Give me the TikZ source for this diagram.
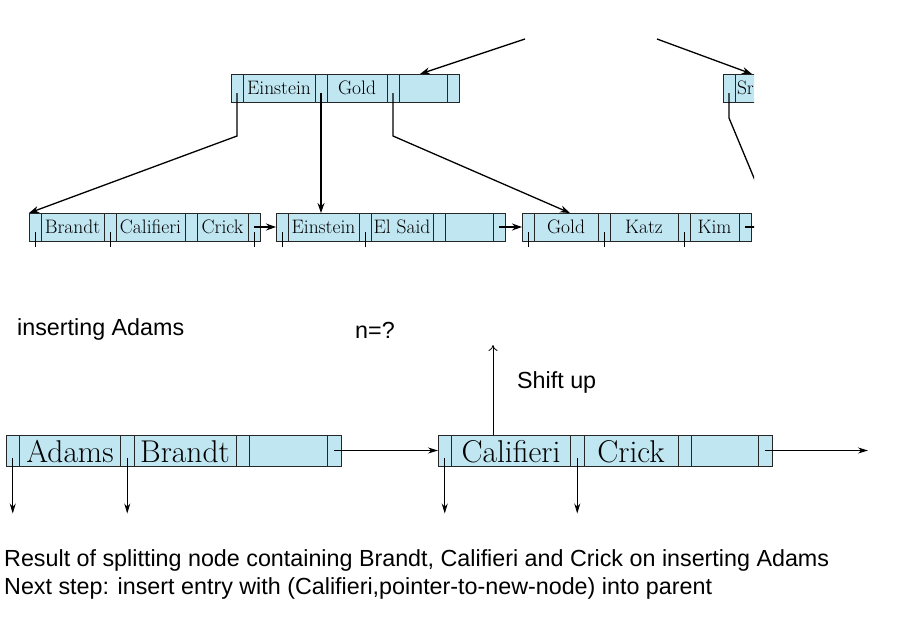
\documentclass[tikz,border=0pt]{standalone}
\usepackage{fontspec}
\newfontfamily\notefont{Liberation Sans}
\usetikzlibrary{positioning,calc,arrows.meta}

\definecolor{cellblue}{RGB}{192,230,242}
\colorlet{cell edge}{black!85}

% one B+-tree node: pointer cells and key cells in a row
\newcommand{\bnode}[3]{%
  \node[ptr, anchor=west] (#1-p0) at #2 {};
  \foreach \w/\t [count=\i, remember=\i as \j (initially 0)] in {#3} {
    \node[key=\w, right=0pt of #1-p\j] (#1-k\i) {\t};
    \node[ptr, right=0pt of #1-k\i] (#1-p\i) {};
  }
}

\tikzset{
  cell/.style={draw=cell edge, fill=cellblue, line width=1pt, inner sep=0pt, outer sep=0pt,
    minimum height=28pt, text height=16.5pt, text depth=3.5pt, font=\fontsize{19.5}{21}\selectfont},
  ptr/.style={cell, minimum width=12pt},
  key/.style={cell, minimum width=#1},
  tick/.style={line width=1pt},
  ptrline/.style={line width=1.3pt},
  link/.style={ptrline, -{Stealth[length=10pt,width=7pt]}},
  downptr/.style={line width=0.9pt, -{Stealth[length=10pt,width=6pt]}},
  shiftarrow/.style={line width=0.8pt, -{To[length=6pt,width=9pt]}},
  note/.style={font=\notefont\fontsize{23.3}{27}\selectfont, anchor=base west, inner sep=0pt},
}

\begin{document}
\begin{tikzpicture}[x=1pt, y=-1pt]
  \useasboundingbox (0,0) rectangle (904,624);

  % Tree before the insert
  \begin{scope}
    \clip (0,38) rectangle (754,262);
    \bnode{root}{(231,88)}{72pt/Einstein,60pt/Gold,48pt/{}}
    \node[ptr, anchor=west] (sr-p0) at (723,88) {};
    \node[key=60pt, right=0pt of sr-p0, text width=56pt, align=left] (sr-k1) {Sr};

    \bnode{leaf1}{(29,227)}{63pt/Brandt,69pt/Califieri,51pt/Crick}
    \bnode{leaf2}{(276,227)}{71pt/Einstein,62pt/El Said,48pt/{}}
    \bnode{leaf3}{(522,227)}{64pt/Gold,68pt/Katz,49pt/Kim}

    \coordinate (up1) at (525,39);
    \coordinate (up2) at (657,39);
    \draw[link] (up1) -- ($(root-k3.north)+(-3,0)$);
    \draw[link] (up2) -- ($(sr-k1.north west)+(17,0)$);

    \draw[link] ($(root-p0.center)+(0,5)$) -- ++(0,43) -- (leaf1-p0.north west);
    \draw[link] ($(root-p1.center)+(0,5)$) -- (root-p1.center |- leaf2-k1.north);
    \draw[link] ($(root-p2.center)+(0,5)$) -- ++(0,43) -- ($(leaf3-k1.north)+(4,0)$);
    \draw[ptrline] ($(sr-p0.center)+(0,5)$) -- ++(0,25) -- ++(30,72);

    \foreach \p in {leaf1-p0,leaf1-p1,leaf1-p3,leaf2-p0,leaf2-p1,leaf3-p0,leaf3-p1,leaf3-p2}
      \draw[tick] ($(\p.center)+(0,5)$) -- ($(\p.south)+(0,6)$);

    \draw[link] (leaf1-p3.center) -- (leaf2-p0.west);
    \draw[link] (leaf2-p3.center) -- (leaf3-p0.west);
    \draw[ptrline] (leaf3-p3.center) -- ++(20,0);
  \end{scope}

  \node[note] (ins) at (17,335) {inserting Adams};
  \node[note] (nq) at (355,338) {n=?};

  % The two halves after the split
  \begin{scope}[cell/.append style={minimum height=31pt, text height=27pt, text depth=3pt,
      font=\fontsize{31.5}{34}\selectfont}, ptr/.append style={minimum width=13.5pt}]
    \bnode{half1}{(6,450.5)}{101pt/Adams,102pt/Brandt,78pt/{}}
    \bnode{half2}{(438,450.5)}{119pt/Califieri,94pt/Crick,67pt/{}}
  \end{scope}

  \foreach \p in {half1-p0,half1-p1,half2-p0,half2-p1}
    \draw[downptr] ($(\p.center)+(0,7)$) -- ++(0,56);
  \draw[downptr] (half1-p3.center) -- (half2-p0.west);
  \coordinate (nextleaf) at (868,450.5);
  \draw[downptr] (half2-p3.center) -- (nextleaf);

  \coordinate (parent) at (493,345);
  \draw[shiftarrow] (half2-k1.north -| parent) -- (parent);
  \node[note] (shift) at (517,388) {Shift up};

  \node[note] (res) at (4,566) {Result of splitting node containing Brandt, Califieri and Crick on inserting Adams};
  \node[note] (next) at (4,594) {Next step: insert entry with (Califieri,pointer-to-new-node) into parent};
\end{tikzpicture}
\end{document}
